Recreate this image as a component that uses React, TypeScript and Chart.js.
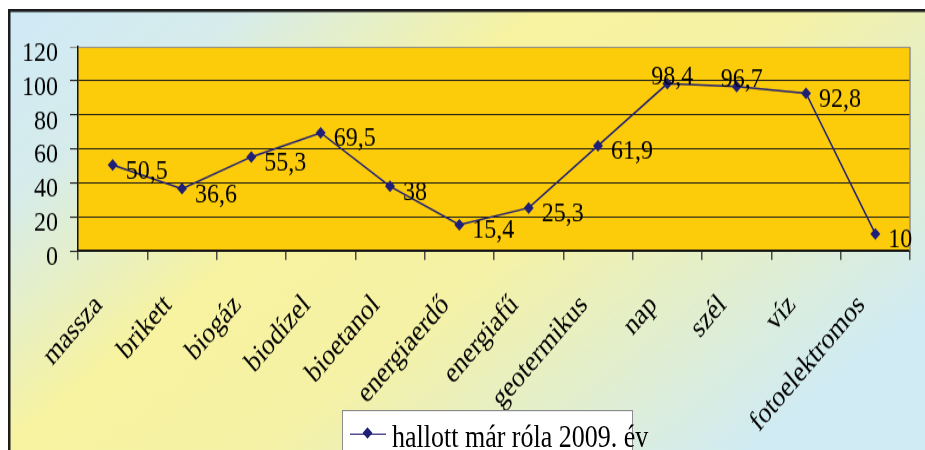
import React, { useEffect, useRef } from 'react';
import { Chart, registerables } from 'chart.js';

Chart.register(...registerables);

const categories: string[] = [
  'massza', 'brikett', 'biogáz', 'biodízel', 'bioetanol', 'energiaerdő',
  'energiafű', 'geotermikus', 'nap', 'szél', 'víz', 'fotoelektromos',
];
const values: number[] = [50.5, 36.6, 55.3, 69.5, 38, 15.4, 25.3, 61.9, 98.4, 96.7, 92.8, 10];
const yTicks: number[] = [0, 20, 40, 60, 80, 100, 120];
const seriesLabel = 'hallott már róla 2009. év';

const FONT = "'Liberation Serif', 'Times New Roman', serif";
const NAVY = '#1f1f78';
const W = 917;
const H = 441; // displayed height
const S = 1.18; // vertical stretch of the original picture
const HC = Math.round(H / S); // canvas drawing height

export default function App() {
  const ref = useRef<HTMLCanvasElement>(null);

  useEffect(() => {
    if (!ref.current) return;

    const background = {
      id: 'background',
      beforeDraw(chart: any) {
        const { ctx, width, height, chartArea } = chart;
        ctx.save();
        const g = ctx.createLinearGradient(0, 0, 414, 708 / S);
        g.addColorStop(0, '#cfe9f6');
        g.addColorStop(0.18, '#d6ecec');
        g.addColorStop(0.42, '#f7f3a0');
        g.addColorStop(0.62, '#f5f2a6');
        g.addColorStop(1, '#d0ebf3');
        ctx.fillStyle = g;
        ctx.fillRect(0, 0, width, height);
        ctx.fillStyle = '#1c1c1c';
        ctx.fillRect(0, 0, width, 3 / S);
        ctx.fillRect(0, 0, 2.5, height);
        ctx.fillStyle = '#fccb0a';
        ctx.fillRect(chartArea.left, chartArea.top, chartArea.right - chartArea.left, chartArea.bottom - chartArea.top);
        ctx.restore();
      },
      beforeDatasetsDraw(chart: any) {
        const { ctx, chartArea } = chart;
        ctx.save();
        ctx.strokeStyle = '#8e8e8e';
        ctx.lineWidth = 1.5;
        ctx.beginPath();
        ctx.moveTo(chartArea.right, chartArea.top);
        ctx.lineTo(chartArea.right, chartArea.bottom);
        ctx.stroke();
        ctx.restore();
      },
    };

    const dataLabels = {
      id: 'dataLabels',
      afterDatasetsDraw(chart: any) {
        const { ctx } = chart;
        const meta = chart.getDatasetMeta(0);
        ctx.save();
        ctx.font = `24px ${FONT}`;
        ctx.fillStyle = '#000';
        ctx.textBaseline = 'middle';
        meta.data.forEach((pt: any, i: number) => {
          const v = values[i];
          const txt = String(v).replace('.', ',');
          if (v > 95) {
            ctx.textAlign = 'center';
            ctx.fillText(txt, pt.x + 5, pt.y - 7 / S);
          } else {
            ctx.textAlign = 'left';
            ctx.fillText(txt, pt.x + 13, pt.y + 6 / S);
          }
        });
        ctx.restore();
      },
    };

    const plotTop = 38 / S;
    const plotBottom = 242 / S;

    const chart = new Chart(ref.current, {
      type: 'line',
      data: {
        labels: categories,
        datasets: [
          {
            label: seriesLabel,
            data: values,
            borderColor: NAVY,
            borderWidth: 1.5,
            backgroundColor: NAVY,
            pointStyle: 'rectRot',
            pointRadius: 5,
            pointBackgroundColor: NAVY,
            pointBorderColor: NAVY,
            pointBorderWidth: 0,
            tension: 0,
            fill: false,
          },
        ],
      },
      options: {
        animation: false,
        responsive: false,
        devicePixelRatio: 1,
        layout: { padding: { left: 0, top: plotTop, right: 15, bottom: 0 } },
        plugins: {
          legend: { display: false },
          tooltip: { enabled: false },
        },
        scales: {
          x: {
            type: 'category',
            offset: true,
            afterFit(scale: any) {
              scale.height = HC - plotBottom;
            },
            grid: {
              display: true,
              offset: true,
              drawOnChartArea: false,
              drawTicks: true,
              tickLength: 9 / S,
              color: '#4a4a4a',
              lineWidth: 1.5,
            },
            border: { display: true, color: '#111', width: 1.5 / S },
            ticks: {
              autoSkip: false,
              minRotation: 45,
              maxRotation: 45,
              padding: 24,
              labelOffset: -14,
              color: '#000',
              font: { family: FONT, size: 25 },
            },
          },
          y: {
            min: 0,
            max: 120,
            afterFit(scale: any) {
              scale.width = 70;
            },
            afterBuildTicks(scale: any) {
              scale.ticks = yTicks.map((v) => ({ value: v }));
            },
            grid: {
              color: (c: any) => (c.tick && c.tick.value === 120 ? '#8e8e8e' : '#1a1a1a'),
              lineWidth: 1.1,
              drawTicks: true,
              tickLength: 8,
            },
            border: { display: true, color: '#111', width: 1.5 },
            ticks: {
              autoSkip: false,
              padding: 12,
              color: '#000',
              font: { family: FONT, size: 24 },
              labelOffset: 5.5,
            },
          },
        },
      },
      plugins: [background, dataLabels],
    } as any);

    return () => chart.destroy();
  }, []);

  return (
    <div style={{ position: 'fixed', left: 8, top: 9, width: W, height: H, overflow: 'hidden' }}>
      <canvas ref={ref} width={W} height={HC} style={{ display: 'block', width: W, height: H }} />
      <div
        style={{
          position: 'absolute',
          left: 334,
          top: 401,
          width: 291,
          height: 50,
          background: '#fff',
          border: '1px solid #8c8c8c',
          boxSizing: 'border-box',
          transform: `scaleY(${S})`,
          transformOrigin: '0 0',
        }}
      >
        <div style={{ position: 'absolute', left: 7, top: 18.5, width: 36, height: 1.3, background: NAVY }} />
        <div
          style={{
            position: 'absolute',
            left: 21,
            top: 15,
            width: 7,
            height: 7,
            background: NAVY,
            transform: 'rotate(45deg)',
          }}
        />
        <span
          style={{
            position: 'absolute',
            left: 49,
            top: 9,
            fontFamily: FONT,
            fontSize: 26,
            lineHeight: '26px',
            whiteSpace: 'nowrap',
            color: '#000',
          }}
        >
          {seriesLabel}
        </span>
      </div>
    </div>
  );
}
